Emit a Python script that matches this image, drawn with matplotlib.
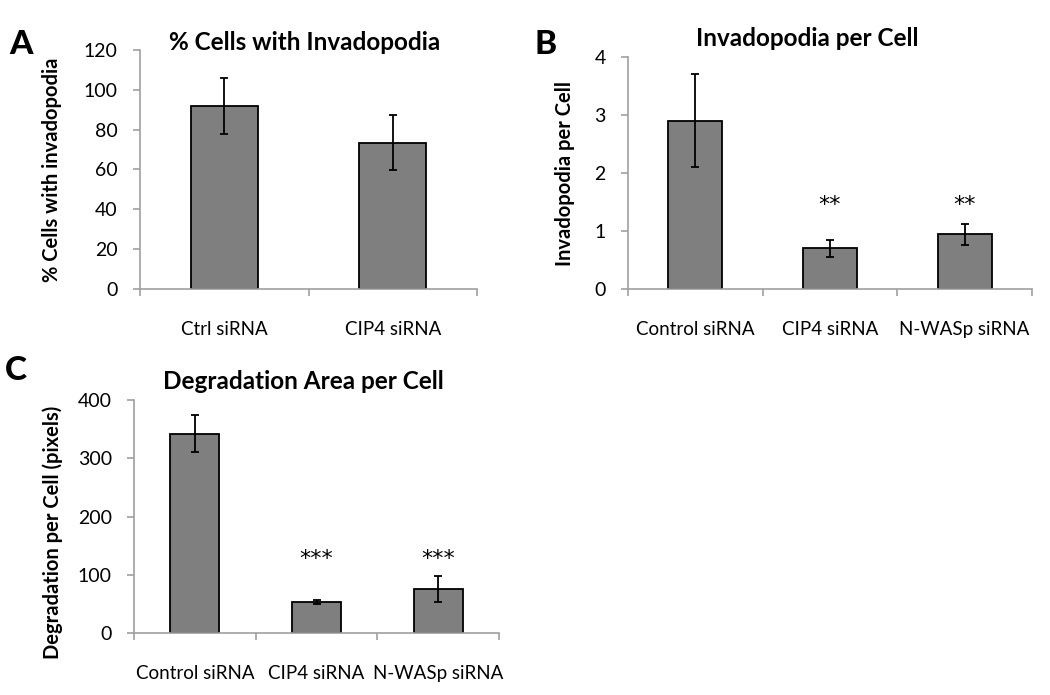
import matplotlib
matplotlib.use("Agg")
import matplotlib.pyplot as plt
import numpy as np

plt.rcParams['font.family'] = ['Lato', 'DejaVu Sans']

W, H = 1050, 695

# panel A
a_labels = ['Ctrl siRNA', 'CIP4 siRNA']
a_vals = [92, 73.5]
a_err = [14, 14]

# panel B
b_labels = ['Control siRNA', 'CIP4 siRNA', 'N-WASp siRNA']
b_vals = [2.9, 0.70, 0.94]
b_err = [0.8, 0.14, 0.18]
b_stars = ['', '**', '**']
b_star_y = [0, 1.45, 1.45]

# panel C
c_labels = ['Control siRNA', 'CIP4 siRNA', 'N-WASp siRNA']
c_vals = [342, 53, 76]
c_err = [31.5, 3, 22]
c_stars = ['', '***', '***']
c_star_y = [0, 127, 127]

GRAY = '#a0a0a0'


def px_axes(fig, left, right, top, bottom):
    return fig.add_axes([left / W, 1 - bottom / H, (right - left) / W, (bottom - top) / H])


def style(ax, n, ymax, step):
    ax.set_xlim(-0.5, n - 0.5)
    ax.set_ylim(0, ymax)
    ax.set_yticks(np.arange(0, ymax + step / 2, step))
    for s in ['top', 'right']:
        ax.spines[s].set_visible(False)
    for s in ['left', 'bottom']:
        ax.spines[s].set_color(GRAY)
        ax.spines[s].set_linewidth(1.2)
    ax.set_xticks(range(n))
    ax.set_xticks(np.arange(-0.5, n), minor=True)
    ax.tick_params(axis='x', which='major', length=0, pad=23, labelsize=13.5)
    ax.tick_params(axis='x', which='minor', length=5, width=1.2, color=GRAY)
    ax.tick_params(axis='y', length=5, width=1.2, color=GRAY, pad=11, labelsize=14)


def bars(ax, labels, vals, err):
    x = np.arange(len(labels))
    ax.bar(x, vals, width=0.4, color='#7f7f7f', edgecolor='black', linewidth=1.3,
           yerr=err, error_kw=dict(ecolor='black', elinewidth=1.3, capsize=3, capthick=1.3))
    ax.set_xticklabels(labels)


def stars(ax, marks, ys):
    for i, s in enumerate(marks):
        if s:
            ax.text(i, ys[i], s, ha='center', va='center', fontsize=16,
                    family='DejaVu Sans')


fig = plt.figure(figsize=(W / 100, H / 100), dpi=100)

# A
axA = px_axes(fig, 140, 477, 50, 289)
bars(axA, a_labels, a_vals, a_err)
style(axA, 2, 120, 20)
axA.set_ylabel('% Cells with invadopodia', fontsize=14.5, fontweight='bold')
axA.yaxis.set_label_coords(-0.231, 0.5)

# B
axB = px_axes(fig, 628, 1032, 57, 289)
bars(axB, b_labels, b_vals, b_err)
style(axB, 3, 4, 1)
axB.set_ylabel('Invadopodia per Cell', fontsize=14.5, fontweight='bold')
axB.yaxis.set_label_coords(-0.131, 0.5)
stars(axB, b_stars, b_star_y)

# C
axC = px_axes(fig, 134, 499, 400, 633)
bars(axC, c_labels, c_vals, c_err)
style(axC, 3, 400, 100)
axC.set_ylabel('Degradation per Cell (pixels)', fontsize=14.5, fontweight='bold')
axC.yaxis.set_label_coords(-0.195, 0.43)
stars(axC, c_stars, c_star_y)


def ptext(x, y, s, **kw):
    fig.text(x / W, 1 - y / H, s, ha='center', va='center', **kw)


ptext(305, 43, '% Cells with Invadopodia', fontsize=17.5, fontweight='bold')
ptext(807, 39, 'Invadopodia per Cell', fontsize=17.5, fontweight='bold')
ptext(303, 382, 'Degradation Area per Cell', fontsize=17.5, fontweight='bold')
ptext(21, 44, 'A', fontsize=24, fontweight='black')
ptext(546, 45, 'B', fontsize=24, fontweight='black')
ptext(16, 371, 'C', fontsize=24, fontweight='black')

fig.savefig('out.png', dpi=100)
